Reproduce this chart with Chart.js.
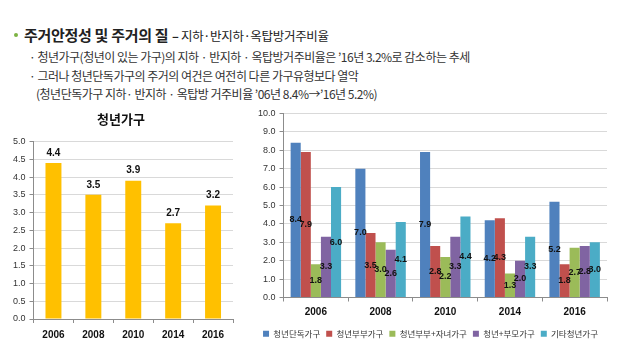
<!DOCTYPE html>
<html>
<head>
<meta charset="utf-8">
<script src="https://cdn.jsdelivr.net/npm/chart.js@4"></script>
<style>
  body { margin: 0; width: 621px; height: 352px; background: #fff; position: relative; overflow: hidden;
         font-family: "Noto Sans CJK KR", sans-serif; }
  .head { position: absolute; left: 14px; top: 22px; color: #222; white-space: nowrap; }
  .dot { display: inline-block; width: 4px; height: 4px; border-radius: 2px; background: #7cb342; vertical-align: middle; margin-right: 6px; position: relative; top: -2px; }
  .big { font-size: 15px; font-weight: bold; letter-spacing: -0.3px; }
  .sub { font-size: 12.5px; letter-spacing: -0.3px; }
  .line { position: absolute; font-size: 12px; letter-spacing: -0.5px; color: #333; white-space: nowrap; }
  #left { position: absolute; left: 0; top: 107px; }
  #right { position: absolute; left: 240px; top: 104px; }
</style>
</head>
<body>
<div class="head"><span class="dot"></span><span class="big">주거안정성 및 주거의 질</span> <span class="sub"><b>–</b> 지하·반지하·옥탑방거주비율</span></div>
<div class="line" style="left:29px; top:48px;">· 청년가구(청년이 있는 가구)의 지하 · 반지하 · 옥탑방거주비율은 ’16년 3.2%로 감소하는 추세</div>
<div class="line" style="left:29px; top:67px;">· 그러나 청년단독가구의 주거의 여건은 여전히 다른 가구유형보다 열악</div>
<div class="line" style="left:36px; top:85px;">(청년단독가구 지하· 반지하 · 옥탑방 거주비율 ’06년 8.4%→’16년 5.2%)</div>
<canvas id="left" width="240" height="240"></canvas>
<canvas id="right" width="381" height="248"></canvas>
<script>
const years = ["2006", "2008", "2010", "2014", "2016"];
const youthHouseholds = [4.4, 3.5, 3.9, 2.7, 3.2];

const seriesNames = ["청년단독가구", "청년부부가구", "청년부부+자녀가구", "청년+부모가구", "기타청년가구"];
const singleYouth = [8.4, 7.0, 7.9, 4.2, 5.2];
const youthCouple = [7.9, 3.5, 2.8, 4.3, 1.8];
const coupleWithKids = [1.8, 3.0, 2.2, 1.3, 2.7];
const youthWithParents = [3.3, 2.6, 3.3, 2.0, 2.8];
const otherYouth = [6.0, 4.1, 4.4, 3.3, 3.0];
const seriesColors = ["#4F81BD", "#C0504D", "#9BBB59", "#8064A2", "#4BACC6"];

const numFont = "'Liberation Sans', 'Noto Sans CJK KR', sans-serif";

// draws the value labels on the bars
const valueLabels = {
  id: "valueLabels",
  afterDatasetsDraw(chart, args, opts) {
    const ctx = chart.ctx;
    ctx.save();
    ctx.font = "bold " + opts.size + "px " + numFont;
    ctx.fillStyle = "#111";
    ctx.textAlign = "center";
    ctx.textBaseline = "middle";
    chart.data.datasets.forEach((ds, i) => {
      chart.getDatasetMeta(i).data.forEach((bar, j) => {
        const y = opts.center ? (bar.y + bar.base) / 2 : bar.y - 10;
        ctx.fillText(ds.data[j].toFixed(1), bar.x, y);
      });
    });
    ctx.restore();
  }
};

const gridColor = "#d9d9d9";
const axisColor = "#8c8c8c";

new Chart(document.getElementById("left"), {
  type: "bar",
  data: {
    labels: years,
    datasets: [{ data: youthHouseholds, backgroundColor: "#FFC000", barPercentage: 0.4, categoryPercentage: 1 }]
  },
  options: {
    responsive: false,
    animation: false,
    layout: { padding: { left: 9, right: 7, top: 2, bottom: 0 } },
    plugins: {
      legend: { display: false },
      tooltip: { enabled: false },
      title: { display: true, text: "청년가구", color: "#111", font: { size: 13, weight: "bold", family: "'Noto Sans CJK KR'" }, padding: { top: 2, bottom: 15 } },
      valueLabels: { size: 10, center: false }
    },
    scales: {
      y: {
        min: 0, max: 5,
        ticks: { stepSize: 0.5, callback: v => v.toFixed(1), color: "#333", font: { size: 9, family: numFont }, padding: 4 },
        grid: { color: gridColor, tickLength: 4, tickColor: axisColor },
        border: { color: axisColor }
      },
      x: {
        ticks: { color: "#111", font: { size: 10, weight: "bold", family: numFont }, padding: 6 },
        grid: { drawOnChartArea: false, tickLength: 4, color: axisColor },
        border: { color: axisColor }
      }
    }
  },
  plugins: [valueLabels]
});

const seriesData = [singleYouth, youthCouple, coupleWithKids, youthWithParents, otherYouth];

new Chart(document.getElementById("right"), {
  type: "bar",
  data: {
    labels: years,
    datasets: seriesNames.map((name, i) => ({
      label: name, data: seriesData[i], backgroundColor: seriesColors[i],
      barPercentage: 1, categoryPercentage: 0.78
    }))
  },
  options: {
    responsive: false,
    animation: false,
    layout: { padding: { left: 14, right: 14, top: 3, bottom: 4 } },
    plugins: {
      legend: {
        position: "bottom",
        labels: { boxWidth: 6, boxHeight: 6, padding: 6, color: "#333", font: { size: 8.5, family: "'Noto Sans CJK KR'" } }
      },
      tooltip: { enabled: false },
      valueLabels: { size: 9, center: true }
    },
    scales: {
      y: {
        min: 0, max: 10,
        ticks: { stepSize: 1, callback: v => v.toFixed(1), color: "#333", font: { size: 9, family: numFont }, padding: 4 },
        grid: { color: gridColor, tickLength: 4, tickColor: axisColor },
        border: { color: axisColor }
      },
      x: {
        ticks: { color: "#111", font: { size: 10, weight: "bold", family: numFont }, padding: 5 },
        grid: { drawOnChartArea: false, tickLength: 4, color: axisColor },
        border: { color: axisColor }
      }
    }
  },
  plugins: [valueLabels]
});
</script>
</body>
</html>
